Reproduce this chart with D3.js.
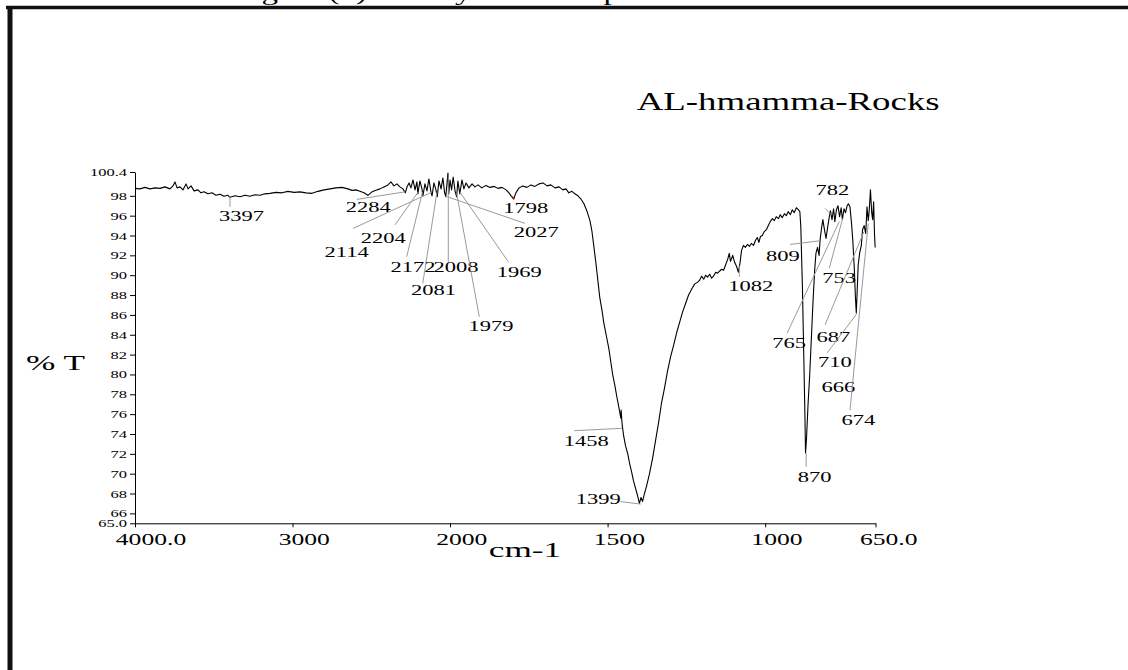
<!DOCTYPE html>
<html>
<head>
<meta charset="utf-8">
<script src="https://cdn.jsdelivr.net/npm/d3@7"></script>
<style>
	body { margin: 0; background: #fff; }
	svg { display: block; font-family: "Liberation Serif", "Times New Roman", serif; }
</style>
</head>
<body>
<div id="chart"></div>
<script>
/**
 *  FTIR spectrum
 *  Transmittance curve of the AL-hmamma rock sample with labelled bands.
 */

/* global d3 */

// Spectrum (cm-1 / %T)
var waveNumbers = [
	4000, 3968, 3937, 3905, 3873, 3841, 3810, 3778, 3759, 3746, 3733, 3714, 3695, 3676, 3663, 3644,
	3625, 3600, 3581, 3562, 3537, 3511, 3486, 3460, 3435, 3410, 3397, 3365, 3333, 3302, 3270, 3238,
	3206, 3175, 3143, 3105, 3067, 3029, 2990, 2952, 2914, 2876, 2838, 2800, 2762, 2724, 2686, 2648,
	2622, 2597, 2572, 2546, 2521, 2495, 2470, 2445, 2419, 2394, 2375, 2356, 2337, 2318, 2299, 2284,
	2273, 2260, 2248, 2235, 2222, 2210, 2204, 2191, 2178, 2172, 2159, 2146, 2134, 2121, 2114, 2102,
	2089, 2081, 2070, 2057, 2045, 2035, 2027, 2013, 2008, 2000, 1995, 1990, 1984, 1979, 1975, 1969,
	1962, 1956, 1949, 1940, 1930, 1921, 1911, 1899, 1886, 1873, 1860, 1848, 1835, 1822, 1813, 1806,
	1798, 1791, 1781, 1769, 1756, 1743, 1731, 1718, 1705, 1692, 1680, 1667, 1654, 1642, 1632, 1623,
	1613, 1604, 1594, 1585, 1575, 1566, 1556, 1550, 1544, 1537, 1531, 1525, 1518, 1512, 1504, 1496,
	1490, 1484, 1477, 1471, 1465, 1458, 1457, 1454, 1449, 1443, 1436, 1430, 1424, 1418, 1411, 1405,
	1399, 1394, 1389, 1383, 1376, 1367, 1357, 1348, 1338, 1329, 1319, 1310, 1300, 1290, 1281, 1271,
	1262, 1252, 1243, 1233, 1224, 1214, 1208, 1202, 1195, 1189, 1183, 1176, 1170, 1164, 1157, 1151,
	1145, 1138, 1132, 1126, 1119, 1114, 1110, 1103, 1097, 1091, 1085, 1080, 1075, 1069, 1063, 1056,
	1050, 1044, 1037, 1031, 1025, 1020, 1015, 1009, 1003, 996, 990, 984, 977, 971, 965, 958,
	952, 946, 939, 933, 927, 920, 914, 908, 901, 895, 890, 887, 882, 877, 874, 872,
	869, 864, 859, 853, 848, 843, 839, 834, 829, 826, 821, 817, 812, 807, 802, 797,
	793, 788, 783, 779, 774, 769, 764, 759, 755, 750, 745, 740, 736, 731, 726, 722,
	717, 714, 711, 708, 705, 700, 695, 691, 686, 681, 677, 673, 670, 666, 662, 659,
	656, 653, 651
];
var transmittance = [
	98.75, 98.7, 98.85, 98.7, 98.8, 98.75, 98.9, 98.7, 99.0, 99.4, 98.8, 98.9, 98.6, 99.2, 98.7, 99.0,
	98.5, 98.6, 98.3, 98.4, 98.2, 98.3, 98.05, 98.15, 97.95, 98.05, 97.85, 98.0, 97.9, 98.05, 97.95, 98.1,
	98.05, 98.2, 98.25, 98.35, 98.3, 98.45, 98.35, 98.4, 98.3, 98.25, 98.45, 98.6, 98.7, 98.8, 98.85, 98.7,
	98.55, 98.6, 98.45, 98.3, 98.05, 98.4, 98.55, 98.7, 98.9, 99.1, 99.4, 99.0, 99.2, 98.9, 98.7, 98.3,
	98.9, 99.3, 98.8, 99.6, 98.6, 99.4, 98.2, 99.5, 98.7, 98.0, 99.2, 98.5, 99.7, 98.4, 98.0, 99.3,
	98.6, 97.9, 99.5, 98.7, 99.8, 98.4, 97.9, 100.3, 98.2, 99.6, 98.6, 99.9, 98.5, 97.9, 99.5, 98.2,
	99.6, 98.7, 99.3, 98.8, 99.2, 98.9, 99.1, 98.8, 99.05, 98.85, 98.95, 98.75, 98.85, 98.6, 98.3, 98.0,
	97.7, 98.3, 98.8, 99.0, 98.85, 99.1, 98.95, 99.2, 99.3, 99.0, 99.1, 98.8, 98.9, 98.6, 98.7, 98.3,
	98.45, 98.2, 98.0, 97.7, 97.2, 96.5, 95.5, 94.5, 93.0, 91.2, 89.5, 87.8, 86.5, 85.2, 83.9, 82.6,
	81.3, 80.0, 78.9, 77.8, 76.8, 75.6, 76.4, 75.0, 73.8, 72.8, 72.0, 71.0, 70.2, 69.3, 68.5, 67.8,
	67.0, 67.6, 67.2, 68.0, 68.8, 70.0, 71.6, 73.3, 75.2, 77.1, 78.7, 80.3, 81.8, 83.0, 84.2, 85.3,
	86.3, 87.2, 88.0, 88.6, 89.1, 89.3, 89.5, 89.9, 89.6, 90.0, 89.8, 90.1, 89.7, 89.9, 90.3, 90.2,
	90.4, 90.6, 90.5, 91.0, 91.6, 92.2, 91.4, 92.0, 91.3, 90.9, 90.3, 91.2, 92.5, 93.0, 92.8, 93.1,
	92.9, 93.2, 93.0, 93.5, 93.8, 93.3, 93.9, 94.0, 94.4, 94.6, 95.0, 95.4, 95.7, 95.5, 95.9, 95.7,
	96.1, 95.8, 96.2, 96.0, 96.4, 96.1, 96.6, 96.3, 96.8, 96.6, 96.4, 94.9, 89.0, 81.0, 76.0, 72.1,
	73.5, 77.0, 79.8, 84.0, 87.5, 90.5, 92.2, 92.8, 92.0, 93.5, 94.8, 95.6, 94.6, 93.7, 94.8, 95.8,
	96.5, 95.6, 96.7, 95.4, 96.6, 97.0, 95.9, 96.8, 95.6, 96.7, 96.3, 97.0, 97.2, 96.9, 95.2, 93.5,
	90.5, 88.0, 86.2, 88.5, 91.0, 92.3, 93.0, 94.6, 95.0, 94.2, 96.9, 95.5, 96.5, 98.6, 96.3, 95.6,
	97.4, 94.0, 92.8
];

// Axis ticks
var xTicks = [4000, 3000, 2000, 1500, 1000, 650];
var yTicks = [65, 66, 68, 70, 72, 74, 76, 78, 80, 82, 84, 86, 88, 90, 92, 94, 96, 98, 100.4];

// Peak annotations (all in cm-1 / %T)
var peakNames = ['3397', '2284', '2204', '2114', '2172', '2008', '2081', '1979', '1969', '2027',
	'1798', '1458', '1399', '1082', '870', '809', '782', '753', '765', '687', '710', '666', '674'];
var peakTips = [
	[3397, 97.9], [2286, 98.4], [2201, 98.4], [2116, 98.37], [2175, 98.37], [2011, 99.92],
	[2083, 98.37], [1979, 98.27], [1969, 98.4], [2029, 97.97], [1798, 97.74], [1455, 74.57],
	[1395, 66.94], [1082, 90.92], [870, 72.08], [826, 93.47], [789, 96.06], [754, 95.72],
	[765, 95.4], [687, 94.37], [710, 86.08], null, [673, 95.2]
];
var peakLabelAt = [
	[3323, 95.45], [2519, 96.33], [2423, 93.2], [2656, 91.86], [2235, 90.35], [1981, 90.35],
	[2105, 88.0], [1870, 84.4], [1780, 89.84], [1726, 93.87], [1759.5, 96.23], [1567.6, 72.79],
	[1529.5, 66.94], [1045.7, 88.43], [842.9, 69.19], [943.5, 91.45], [786.4, 98.07], [765.2, 89.24],
	[923.8, 82.66], [783.9, 83.29], [778.5, 80.71], [768, 78.26], [704.6, 74.9]
];
var peakLeaderFrom = [
	[3397, 96.9], [2592, 97.64], [2349, 95.07], [2614, 94.72], [2275, 91.86], [2011, 91.35],
	[2173, 89.18], [1907, 85.81], [1815, 91.35], [1762, 95.22], null, [1606, 74.33],
	[1458.4, 67.18], [1082, 89.84], [870, 70.7], [921, 93.1], [810, 96.73], [796.7, 90.69],
	[930.6, 84.14], [810, 85.0], [803, 82.19], null, [731, 76.4]
];

(function() {

	var W = 1128,
		H = 670,
		serif = '"Liberation Serif", "Times New Roman", serif';

	// Stretch text horizontally (the scan is wider than it is tall)
	function stretch(sel, k) {
		sel.each(function() {
			var len = this.getComputedTextLength();
			d3.select(this)
				.attr('textLength', len * k)
				.attr('lengthAdjust', 'spacingAndGlyphs');
		});
	}

	var svg = d3.select('#chart').append('svg')
		.attr('width', W)
		.attr('height', H)
		.attr('font-family', serif);

	svg.append('rect').attr('width', W).attr('height', H).attr('fill', '#fff');

	// Page frame + clipped caption from the page above
	svg.append('line')
		.attr('x1', 6).attr('x2', W).attr('y1', 7.5).attr('y2', 7.5)
		.attr('stroke', '#111').attr('stroke-width', 3.5);
	svg.append('line')
		.attr('x1', 10).attr('x2', 10).attr('y1', 6).attr('y2', H)
		.attr('stroke', '#111').attr('stroke-width', 5);
	svg.append('text')
		.attr('x', 234).attr('y', 0)
		.attr('font-size', 20)
		.text('Figure (1) : Analysis of sample')
		.call(stretch, 1.65);

	// Scales: the spectrometer doubles the scale below 2000 cm-1
	var x = d3.scaleLinear()
			.domain([4000, 2000, 650])
			.range([135, 450, 875.5]),
		y = d3.scaleLinear()
			.domain([65, 100.4])
			.range([523.3, 172]);

	// y-axis
	var gY = svg.append('g')
		.attr('transform', 'translate(' + x(4000) + ',0)')
		.call(d3.axisLeft(y)
			.tickValues(yTicks)
			.tickSize(5)
			.tickSizeOuter(0)
			.tickPadding(3)
			.tickFormat(function(d) {
				return d === 65 ? '65.0' : String(d);
			}))
		.attr('font-family', serif)
		.attr('font-size', 11);
	gY.selectAll('text')
		.attr('fill', '#000')
		.call(stretch, 1.5);

	// x-axis
	var gX = svg.append('g')
		.attr('transform', 'translate(0,' + y(65) + ')')
		.call(d3.axisBottom(x)
			.tickValues(xTicks)
			.tickSize(4)
			.tickSizeOuter(0)
			.tickPadding(6)
			.tickFormat(function(d) {
				return (d === 4000 || d === 650) ? d + '.0' : String(d);
			}))
		.attr('font-family', serif)
		.attr('font-size', 16);
	gX.selectAll('text')
		.attr('fill', '#000')
		.attr('text-anchor', 'start')
		.each(function() {
			var len = this.getComputedTextLength() * 1.6;
			d3.select(this)
				.attr('x', -0.28 * len)
				.attr('textLength', len)
				.attr('lengthAdjust', 'spacingAndGlyphs');
		});
	svg.selectAll('.domain, .tick line').attr('stroke', '#000');

	// Axis titles and sample name
	svg.append('text')
		.attr('x', 525).attr('y', 556.7)
		.attr('text-anchor', 'middle')
		.attr('font-size', 22)
		.text('cm-1')
		.call(stretch, 1.6);
	svg.append('text')
		.attr('x', 26).attr('y', 370)
		.attr('font-size', 22)
		.attr('textLength', 59)
		.attr('lengthAdjust', 'spacingAndGlyphs')
		.text('% T');
	svg.append('text')
		.attr('x', 636.7).attr('y', 110)
		.attr('font-size', 25)
		.attr('textLength', 303)
		.attr('lengthAdjust', 'spacingAndGlyphs')
		.text('AL-hmamma-Rocks');

	// Spectrum
	var line = d3.line()
		.x(function(d) { return x(d[0]); })
		.y(function(d) { return y(d[1]); });
	svg.append('path')
		.datum(d3.zip(waveNumbers, transmittance))
		.attr('d', line)
		.attr('fill', 'none')
		.attr('stroke', '#000')
		.attr('stroke-width', 1.1)
		.attr('stroke-linejoin', 'round');

	// Peak leaders + labels
	var gPeaks = svg.append('g').attr('class', 'peaks');
	peakNames.forEach(function(name, i) {
		var tip = peakTips[i],
			from = peakLeaderFrom[i],
			at = peakLabelAt[i];
		if (tip && from) {
			gPeaks.append('line')
				.attr('x1', x(from[0])).attr('y1', y(from[1]))
				.attr('x2', x(tip[0])).attr('y2', y(tip[1]))
				.attr('stroke', '#9a9a9a')
				.attr('stroke-width', 1);
		} else if (tip) {
			gPeaks.append('circle')
				.attr('cx', x(tip[0])).attr('cy', y(tip[1]))
				.attr('r', 1.1)
				.attr('fill', '#e00');
		}
		gPeaks.append('text')
			.attr('x', x(at[0])).attr('y', y(at[1]))
			.attr('text-anchor', 'middle')
			.attr('font-size', 15)
			.text(name)
			.call(stretch, 1.5);
	});

})();
</script>
</body>
</html>
